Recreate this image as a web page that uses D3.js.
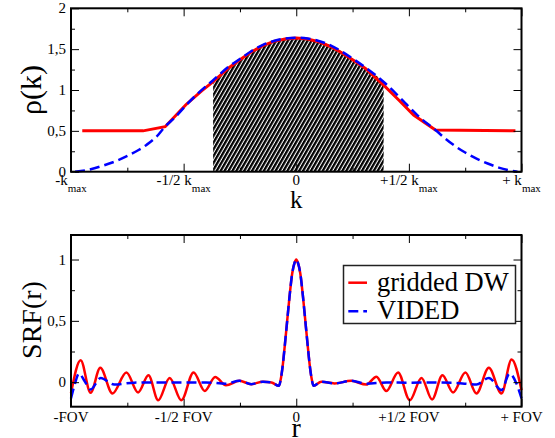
<!DOCTYPE html>
<html>
<head>
<meta charset="utf-8">
<script src="https://cdn.jsdelivr.net/npm/d3@7"></script>
<style>
body { margin: 0; background: #fff; }
text { font-family: "Liberation Serif", "Times New Roman", serif; fill: #000; }
</style>
</head>
<body>
<svg id="chart" width="555" height="438"></svg>
<script>
// DATA

// Top panel: sampling density rho(k)
const kTicks = [-1, -0.5, 0, 0.5, 1];
const kTickLabels = [["-k", "max"], ["-1/2 k", "max"], ["0", ""], ["+1/2 k", "max"], ["+ k", "max"]];
const kMinor = [-0.75, -0.25, 0.25, 0.75];
const rhoTicks = [0, 0.5, 1, 1.5, 2];
const rhoTickLabels = ["0", "0,5", "1", "1,5", "2"];
const rhoMinor = [0.25, 0.75, 1.25, 1.75];

// gridded DW density (red)
const griddedK   = [-0.95, -0.68, -0.582, -0.49, -0.42, -0.37, -0.3, -0.25, -0.2, -0.15, -0.1, -0.05, 0,
                    0.05, 0.1, 0.15, 0.2, 0.25, 0.307, 0.388, 0.455, 0.521, 0.618, 0.973];
const griddedRho = [0.5, 0.5, 0.551, 0.82, 0.99, 1.10, 1.27, 1.37, 1.465, 1.54, 1.595, 1.625, 1.635,
                    1.625, 1.59, 1.535, 1.46, 1.37, 1.265, 1.06, 0.878, 0.694, 0.51, 0.5];

// VIDED density (blue)
const videdK   = [-0.982, -0.93, -0.856, -0.8, -0.752, -0.7, -0.664, -0.62, -0.583, -0.54, -0.487, -0.44, -0.369,
                  -0.3, -0.25, -0.2, -0.15, -0.1, -0.05, 0, 0.05, 0.1, 0.15, 0.2, 0.25, 0.3, 0.396, 0.484,
                  0.55, 0.618, 0.66, 0.707, 0.75, 0.796, 0.85, 0.899, 0.94, 0.982];
const videdRho = [0.0, 0.02, 0.075, 0.13, 0.19, 0.265, 0.33, 0.43, 0.55, 0.66, 0.82, 0.95, 1.12,
                  1.285, 1.38, 1.475, 1.55, 1.6, 1.63, 1.64, 1.63, 1.6, 1.55, 1.475, 1.385, 1.29, 1.08, 0.84,
                  0.66, 0.51, 0.41, 0.31, 0.235, 0.165, 0.1, 0.05, 0.02, 0.0];

// shaded (hatched) part of k-space
const hatchRange = [-0.369, 0.388];

// Bottom panel: spatial response function SRF(r)
const rTicks = [-1, -0.5, 0, 0.5, 1];
const rTickLabels = ["-FOV", "-1/2 FOV", "0", "+1/2 FOV", "+ FOV"];
const rMinor = [-0.75, -0.25, 0.25, 0.75];
const srfTicks = [0, 0.5, 1];
const srfTickLabels = ["0", "0,5", "1"];
const srfMinor = [0.25, 0.75];

// gridded DW SRF (red)
const griddedR   = [-1.0, -0.957, -0.913, -0.87, -0.816, -0.754, -0.702, -0.656, -0.613, -0.562, -0.51, -0.456,
                    -0.406, -0.36, -0.312, -0.252, -0.2, -0.148, -0.11, -0.077, -0.067, -0.059, -0.05, -0.04,
                    -0.03, -0.018, -0.008, 0, 0.008, 0.018, 0.03, 0.04, 0.05, 0.059, 0.067, 0.077, 0.111,
                    0.17, 0.244, 0.311, 0.356, 0.4, 0.452, 0.504, 0.556, 0.603, 0.649, 0.696, 0.751, 0.8,
                    0.855, 0.911, 0.956, 1.0];
const griddedSrf = [-0.09, 0.179, -0.087, 0.117, -0.092, 0.079, -0.084, 0.057, -0.147, 0.035, -0.147, 0.079,
                    -0.071, 0.043, -0.025, 0.011, -0.016, 0.004, -0.002, -0.03, 0.043, 0.152, 0.315, 0.505,
                    0.695, 0.886, 0.97, 1.0, 0.97, 0.886, 0.695, 0.505, 0.315, 0.152, 0.043, -0.03, 0.003,
                    -0.01, 0.011, -0.02, 0.045, -0.073, 0.079, -0.147, 0.035, -0.141, 0.057, -0.084, 0.079, -0.092,
                    0.117, -0.092, 0.185, -0.065];

// VIDED SRF (blue)
const videdR   = [-1.0, -0.985, -0.964, -0.94, -0.913, -0.868, -0.809, -0.72, -0.6, -0.5, -0.4, -0.312,
                  -0.252, -0.2, -0.148, -0.11, -0.077, -0.067, -0.059, -0.05, -0.04, -0.03, -0.018, -0.008,
                  0, 0.008, 0.018, 0.03, 0.04, 0.05, 0.059, 0.067, 0.077, 0.111, 0.17, 0.244, 0.311, 0.4,
                  0.5, 0.6, 0.7, 0.8, 0.855, 0.911, 0.947, 0.975, 1.0];
const videdSrf = [-0.133, -0.03, 0.071, 0.01, -0.06, 0.035, -0.019, -0.004, -0.002, -0.003, -0.002, -0.012,
                  0.011, -0.016, 0.004, -0.002, -0.03, 0.043, 0.152, 0.315, 0.505, 0.695, 0.886, 0.97,
                  1.0, 0.97, 0.886, 0.695, 0.505, 0.315, 0.152, 0.043, -0.03, 0.003, -0.01, 0.011, -0.012, -0.003,
                  -0.004, -0.003, -0.005, -0.019, 0.035, -0.065, 0.071, 0.0, -0.133];

// LAYOUT
const svg = d3.select("#chart");
const left = 71, right = 521.5;
const red = "#ff0000", blue = "#0000ff";

// Inward ticks on all four sides plus a frame
function drawFrame(x, y, xMajor, xMinor, yMajor, yMinor) {
	const [x0, x1] = x.range();
	const [y0, y1] = y.range(); // y0 is bottom
	const sides = [
		[d3.axisBottom, x, `translate(0,${y0})`, xMajor, xMinor],
		[d3.axisTop,    x, `translate(0,${y1})`, xMajor, xMinor],
		[d3.axisLeft,   y, `translate(${x0},0)`, yMajor, yMinor],
		[d3.axisRight,  y, `translate(${x1},0)`, yMajor, yMinor]
	];
	sides.forEach(([axis, scale, tr, major, minor]) => {
		[[major, -8], [minor, -4]].forEach(([vals, size]) => {
			svg.append("g")
				.attr("transform", tr)
				.call(axis(scale).tickValues(vals).tickSize(size).tickFormat(""))
				.call(g => g.select(".domain").remove())
				.selectAll("line").attr("stroke", "#000").attr("stroke-width", 1);
		});
	});
	svg.append("rect")
		.attr("x", x0).attr("y", y1)
		.attr("width", x1 - x0).attr("height", y0 - y1)
		.attr("fill", "none").attr("stroke", "#000").attr("stroke-width", 2);
}

function yLabels(y, vals, labels) {
	svg.append("g").selectAll("text")
		.data(vals)
		.join("text")
		.attr("x", left - 5)
		.attr("y", d => y(d))
		.attr("dy", "0.34em")
		.attr("text-anchor", "end")
		.style("font-size", "15px")
		.text((d, i) => labels[i]);
}

// TOP PANEL
const xK = d3.scaleLinear().domain([-1, 1]).range([left, right]);
const yRho = d3.scaleLinear().domain([0, 2]).range([171.7, 8.3]);

const defs = svg.append("defs");
const pat = defs.append("pattern")
	.attr("id", "hatch")
	.attr("patternUnits", "userSpaceOnUse")
	.attr("width", 3.4).attr("height", 3.4)
	.attr("patternTransform", "rotate(30)");
pat.append("rect").attr("width", 3.4).attr("height", 3.4).attr("fill", "#fff");
pat.append("rect").attr("width", 2.3).attr("height", 3.4).attr("fill", "#000");

defs.append("clipPath").attr("id", "hatch-clip")
	.append("rect")
	.attr("x", xK(hatchRange[0])).attr("y", yRho.range()[1])
	.attr("width", xK(hatchRange[1]) - xK(hatchRange[0]))
	.attr("height", yRho.range()[0] - yRho.range()[1]);

const videdTop = d3.zip(videdK, videdRho);
const griddedTop = d3.zip(griddedK, griddedRho);

svg.append("path")
	.datum(videdTop)
	.attr("clip-path", "url(#hatch-clip)")
	.attr("fill", "url(#hatch)")
	.attr("d", d3.area().x(d => xK(d[0])).y0(yRho(0)).y1(d => yRho(d[1])).curve(d3.curveMonotoneX));

svg.append("path")
	.datum(griddedTop)
	.attr("fill", "none").attr("stroke", red).attr("stroke-width", 3)
	.attr("d", d3.line().x(d => xK(d[0])).y(d => yRho(d[1])));

svg.append("path")
	.datum(videdTop)
	.attr("fill", "none").attr("stroke", blue).attr("stroke-width", 2.5)
	.attr("stroke-dasharray", "10,5")
	.attr("d", d3.line().x(d => xK(d[0])).y(d => yRho(d[1])).curve(d3.curveMonotoneX));

drawFrame(xK, yRho, kTicks, kMinor, rhoTicks, rhoMinor);
yLabels(yRho, rhoTicks, rhoTickLabels);

// k tick labels with "max" subscript
const kLab = svg.append("g").selectAll("text")
	.data(kTicks)
	.join("text")
	.attr("x", d => xK(d))
	.attr("y", 185)
	.attr("text-anchor", "middle")
	.style("font-size", "15px");
kLab.append("tspan").text((d, i) => kTickLabels[i][0]);
kLab.append("tspan").attr("dy", 7).style("font-size", "11px").text((d, i) => kTickLabels[i][1]);

svg.append("text")
	.attr("transform", "translate(41,90) rotate(-90)")
	.attr("text-anchor", "middle")
	.style("font-size", "30px")
	.text("ρ(k)");
svg.append("text")
	.attr("x", xK(0)).attr("y", 207.5)
	.attr("text-anchor", "middle")
	.style("font-size", "25px")
	.text("k");

// BOTTOM PANEL
const xR = d3.scaleLinear().domain([-1, 1]).range([left, right]);
const ySrf = d3.scaleLinear().domain([-0.2, 1.2]).range([406.7, 235]);

const srfLine = d3.line().x(d => xR(d[0])).y(d => ySrf(d[1])).curve(d3.curveMonotoneX);

svg.append("path")
	.datum(d3.zip(griddedR, griddedSrf))
	.attr("fill", "none").attr("stroke", red).attr("stroke-width", 2.5)
	.attr("d", srfLine);

svg.append("path")
	.datum(d3.zip(videdR, videdSrf))
	.attr("fill", "none").attr("stroke", blue).attr("stroke-width", 2.5)
	.attr("stroke-dasharray", "10,5")
	.attr("d", srfLine);

drawFrame(xR, ySrf, rTicks, rMinor, srfTicks, srfMinor);
yLabels(ySrf, srfTicks, srfTickLabels);

svg.append("g").selectAll("text")
	.data(rTicks)
	.join("text")
	.attr("x", d => xR(d))
	.attr("y", 421.5)
	.attr("text-anchor", "middle")
	.style("font-size", "15px")
	.text((d, i) => rTickLabels[i]);

svg.append("text")
	.attr("transform", "translate(41,320) rotate(-90)")
	.attr("text-anchor", "middle")
	.style("font-size", "28px")
	.text("SRF(r)");
svg.append("text")
	.attr("x", xR(0)).attr("y", 437)
	.attr("text-anchor", "middle")
	.style("font-size", "28px")
	.text("r");

// Legend
const legend = svg.append("g");
legend.append("rect")
	.attr("x", 343.5).attr("y", 265.5)
	.attr("width", 172).attr("height", 58)
	.attr("fill", "#fff").attr("stroke", "#222").attr("stroke-width", 1.5);
const items = [["gridded DW", red, null, 282.7], ["VIDED", blue, "10,5", 311.3]];
items.forEach(([name, color, dash, yy]) => {
	legend.append("line")
		.attr("x1", 348.3).attr("x2", 367).attr("y1", yy).attr("y2", yy)
		.attr("stroke", color).attr("stroke-width", 2.5)
		.attr("stroke-dasharray", dash);
	legend.append("text")
		.attr("x", 377).attr("y", yy + 8)
		.style("font-size", "26.5px")
		.text(name);
});
</script>
</body>
</html>
